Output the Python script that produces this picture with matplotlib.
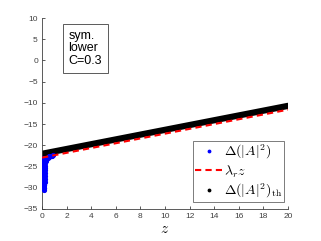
import matplotlib
matplotlib.use('Agg')
import matplotlib.pyplot as plt
from matplotlib.lines import Line2D

plt.rcParams['font.family'] = ['Liberation Sans', 'DejaVu Sans']
plt.rcParams['mathtext.fontset'] = 'cm'

# blue: numerical Delta(|A|^2), transient near z=0
z_num = [0.00, 0.02, 0.04, 0.06, 0.08, 0.10, 0.11, 0.12, 0.13, 0.14, 0.15, 0.16,
         0.17, 0.18, 0.19, 0.20, 0.21, 0.22, 0.23, 0.24, 0.25, 0.26, 0.28, 0.30,
         0.33, 0.36, 0.40, 0.45, 0.50, 0.55, 0.60, 0.70, 0.80, 0.90]
d_num = [-23.0, -23.4, -23.9, -24.5, -25.2, -26.0, -26.6, -27.3, -28.0, -28.7, -29.4, -30.0,
         -30.5, -30.0, -29.3, -28.6, -27.9, -27.2, -26.5, -25.9, -25.3, -24.8, -24.2, -23.8,
         -23.5, -23.3, -23.1, -22.9, -22.8, -22.7, -22.6, -22.5, -22.4, -22.3]

# red dashed: lambda_r z
z_lam = [0, 20]
d_lam = [-22.9, -11.6]

# black: theory
z_th = [0, 2, 4, 6, 8, 10, 12, 14, 16, 18, 20]
d_th = [-22.0, -20.87, -19.74, -18.61, -17.48, -16.35, -15.22, -14.09, -12.96, -11.83, -10.7]

fig = plt.figure(figsize=(3.21, 2.41), dpi=100)
ax = fig.add_axes([0.131, 0.133, 0.766, 0.792])

ax.plot(z_num, d_num, '.', color='blue', ms=5.5, zorder=3)
ax.plot(z_th, d_th, '-', color='black', lw=4.5, solid_capstyle='round', zorder=2)
ax.plot(z_lam, d_lam, '--', color='red', lw=1.5, dashes=(3, 2), zorder=4)

ax.set_xlim(0, 20)
ax.set_ylim(-35, 10)
ax.set_xticks(range(0, 21, 2))
ax.set_yticks(range(-35, 11, 5))
ax.tick_params(direction='in', length=2.5, width=0.6, labelsize=6, colors='#404040', pad=3)
for s in ['top', 'right']:
    ax.spines[s].set_visible(False)
for s in ['left', 'bottom']:
    ax.spines[s].set_color('#404040')
    ax.spines[s].set_linewidth(0.6)

ax.set_xlabel('$z$', fontsize=11, labelpad=1)

ax.text(0.108, 0.94, 'sym.\nlower\nC=0.3', transform=ax.transAxes, fontsize=9,
        va='top', ha='left', linespacing=1.1,
        bbox=dict(boxstyle='square,pad=0.45', fc='white', ec='#404040', lw=0.6))

handles = [
    Line2D([], [], ls='none', marker='.', color='blue', ms=3.5),
    Line2D([], [], ls='--', color='red', lw=1.5, dashes=(3, 2)),
    Line2D([], [], ls='none', marker='.', color='black', ms=3.5),
]
labels = [r'$\Delta(|A|^2)$', r'$\lambda_r z$', r'$\Delta(|A|^2)_{\rm th}$']
leg = ax.legend(handles, labels, loc='lower right', bbox_to_anchor=(0.985, 0.035),
                fontsize=10, frameon=True, fancybox=False, handlelength=2.0,
                handletextpad=0.1, borderpad=0.15, labelspacing=0.15, borderaxespad=0)
leg.get_frame().set_edgecolor('#404040')
leg.get_frame().set_linewidth(0.6)

fig.savefig('out.png', dpi=100)
